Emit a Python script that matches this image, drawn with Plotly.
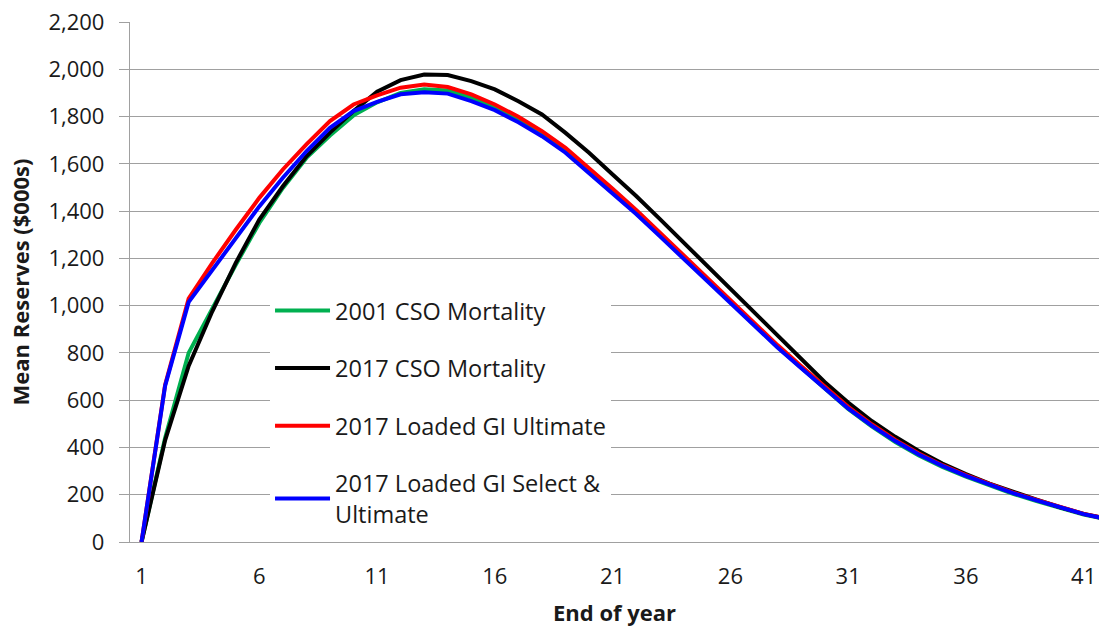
import plotly.graph_objects as go

years = list(range(1, 43))

cso_2001 = [0, 440, 800, 990, 1173, 1350, 1498, 1625, 1720, 1805, 1860, 1900, 1915, 1910,
            1880, 1840, 1788, 1728, 1657, 1572, 1486, 1396, 1302, 1207, 1112, 1017, 922,
            826, 738, 650, 563, 489, 423, 366, 318, 276, 238, 204, 173, 143, 116, 96]

cso_2017 = [0, 430, 745, 975, 1181, 1364, 1505, 1632, 1732, 1823, 1905, 1954, 1978, 1976,
            1950, 1915, 1865, 1809, 1731, 1647, 1555, 1464, 1367, 1269, 1171, 1070, 970,
            872, 775, 677, 590, 512, 445, 385, 332, 287, 247, 211, 179, 147, 119, 98]

gi_ult = [0, 665, 1030, 1180, 1321, 1456, 1576, 1682, 1781, 1851, 1890, 1922, 1936, 1925,
          1894, 1851, 1799, 1738, 1668, 1583, 1495, 1405, 1310, 1215, 1120, 1024, 929,
          833, 745, 658, 572, 498, 432, 374, 325, 283, 244, 209, 178, 147, 119, 98]

gi_sel_ult = [0, 660, 1015, 1152, 1286, 1420, 1541, 1653, 1752, 1823, 1862, 1894, 1903, 1897,
              1865, 1827, 1776, 1717, 1647, 1562, 1478, 1388, 1294, 1200, 1106, 1012, 918,
              823, 736, 650, 565, 492, 427, 370, 322, 280, 242, 207, 176, 146, 118, 97]

series = [
    ("2001 CSO Mortality", cso_2001, "#00B050"),
    ("2017 CSO Mortality", cso_2017, "#000000"),
    ("2017 Loaded GI Ultimate", gi_ult, "#FF0000"),
    ("2017 Loaded GI Select &<br>Ultimate", gi_sel_ult, "#0000FF"),
]

x_ticks = [1, 6, 11, 16, 21, 26, 31, 36, 41]
y_ticks = list(range(0, 2201, 200))

fig = go.Figure()
for i, (name, vals, col) in enumerate(series):
    fig.add_trace(go.Scatter(x=years, y=vals, mode="lines", name=name,
                             legendgroup=str(i),
                             line=dict(color=col, width=4)))

font_family = "Open Sans"
fig.update_layout(
    width=1099, height=627,
    margin=dict(l=130, r=0, t=22, b=85),
    plot_bgcolor="white", paper_bgcolor="white",
    font=dict(family=font_family, size=22, color="#1a1a1a"),
    showlegend=True,
    legend=dict(x=0.1445, y=0.487, xanchor="left", yanchor="top",
                bgcolor="white", borderwidth=0, tracegroupgap=24,
                itemwidth=55, font=dict(size=23.5, family=font_family)),
    xaxis=dict(range=[0.51, 41.65], tickvals=x_ticks, ticktext=[str(v) for v in x_ticks],
               showgrid=False, showline=True, linecolor="#a0a0a0", linewidth=1.3,
               ticks="", ticklabelstandoff=14, zeroline=False,
               title=dict(text="<b>End of year</b>", standoff=17,
                          font=dict(size=22, family=font_family))),
    yaxis=dict(range=[0, 2200], tickvals=y_ticks, tickformat=",",
               showgrid=True, gridcolor="#a0a0a0", gridwidth=1.3,
               showline=True, linecolor="#a0a0a0", linewidth=1.3,
               ticks="outside", ticklen=10, tickcolor="#a0a0a0", tickwidth=1.3,
               ticklabelstandoff=10, zeroline=False,
               title=dict(text="<b>Mean Reserves ($000s)</b>", standoff=12,
                          font=dict(size=22, family=font_family))),
)

fig.write_html("out.html", config={"displayModeBar": False},
               post_script="document.body.style.margin='0px';")
